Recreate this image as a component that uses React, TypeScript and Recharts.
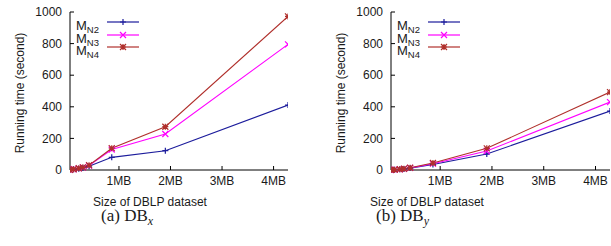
import { Line, LineChart, XAxis, YAxis } from 'recharts';

// dataset size (MB) on the x axis, running time (s) per method
const sizesMB = [0.05, 0.12, 0.22, 0.3, 0.42, 0.86, 1.9, 4.28];
const dbxN2 = [1, 4, 8, 13, 24, 80, 122, 411];
const dbxN3 = [1, 5, 10, 16, 28, 130, 228, 795];
const dbxN4 = [1, 5, 11, 17, 30, 138, 274, 972];
const dbyN2 = [0, 2, 4, 7, 12, 35, 101, 373];
const dbyN3 = [0, 2, 4, 7, 13, 40, 120, 430];
const dbyN4 = [1, 2, 5, 8, 14, 44, 137, 493];

const xTicks = [1, 2, 3, 4];
const yTicks = [0, 200, 400, 600, 800, 1000];
const seriesNames = ['N2', 'N3', 'N4'];

const COLORS: Record<string, string> = { N2: '#1c1c9c', N3: '#ff00ff', N4: '#b0302c' };
const FONT = '"Liberation Sans", Arial, sans-serif';
const SERIF = '"Liberation Serif", "Times New Roman", serif';
const TEXT = '#1a1a1a';

const Marker = ({ cx, cy, kind, color }: { cx: number; cy: number; kind: string; color: string }) => {
  const r = 3;
  const plus = `M${cx - r},${cy}H${cx + r}M${cx},${cy - r}V${cy + r}`;
  const cross = `M${cx - r},${cy - r}L${cx + r},${cy + r}M${cx - r},${cy + r}L${cx + r},${cy - r}`;
  const d = kind === 'N2' ? plus : kind === 'N3' ? cross : plus + cross;
  return <path d={d} stroke={color} strokeWidth={1.2} fill="none" />;
};

// gnuplot-style key in the top-left corner of the plot
const Key = ({ left }: { left: number }) => (
  <div style={{ position: 'absolute', left, top: 16 }}>
    {seriesNames.map((s, i) => (
      <div key={s} style={{ position: 'absolute', top: i * 12.5, left: 0, height: 11, whiteSpace: 'nowrap' }}>
        <span style={{ fontFamily: FONT, fontSize: 13, color: TEXT, lineHeight: '11px', display: 'inline-block' }}>
          M
        </span>
        <span
          style={{
            fontFamily: FONT,
            fontSize: 9.5,
            color: TEXT,
            lineHeight: '9px',
            display: 'inline-block',
            position: 'relative',
            top: 3,
          }}
        >
          {s}
        </span>
        <svg width={34} height={10} style={{ position: 'absolute', left: 30, top: 1 }}>
          <line x1={1} x2={33} y1={5} y2={5} stroke={COLORS[s]} strokeWidth={1.2} />
          <Marker cx={17} cy={5} kind={s} color={COLORS[s]} />
        </svg>
      </div>
    ))}
  </div>
);

interface PanelProps {
  left: number;
  width: number;
  n2: number[];
  n3: number[];
  n4: number[];
}

const Panel = ({ left, width, n2, n3, n4 }: PanelProps) => {
  const data = sizesMB.map((x, i) => ({ x, N2: n2[i], N3: n3[i], N4: n4[i] }));
  const axisTick = { fontSize: 12, fill: TEXT, fontFamily: FONT };
  return (
    <div style={{ position: 'absolute', left, top: 0 }}>
      <LineChart width={width} height={192} data={data} margin={{ top: 12, right: 1, bottom: 0, left: 0 }}>
        <XAxis
          dataKey="x"
          type="number"
          domain={['dataMin', 'dataMax']}
          ticks={xTicks}
          tickFormatter={(v: number) => `${v}MB`}
          tick={axisTick}
          tickSize={-4}
          tickMargin={10}
          height={22}
          stroke="#000"
          allowDataOverflow
        />
        <XAxis
          xAxisId="top"
          orientation="top"
          dataKey="x"
          type="number"
          domain={['dataMin', 'dataMax']}
          ticks={xTicks}
          tick={false}
          tickSize={-4}
          height={0}
          stroke="#000"
          allowDataOverflow
        />
        <YAxis
          domain={[0, 1000]}
          ticks={yTicks}
          tick={axisTick}
          tickSize={-4}
          tickMargin={12}
          width={70}
          stroke="#000"
        />
        <YAxis
          yAxisId="right"
          orientation="right"
          domain={[0, 1000]}
          ticks={yTicks}
          tick={false}
          tickSize={-4}
          width={0}
          stroke="#000"
        />
        {seriesNames.map((s) => (
          <Line
            key={s}
            dataKey={s}
            stroke={COLORS[s]}
            strokeWidth={1.1}
            dot={(p: { cx?: number; cy?: number; index?: number }) => (
              <Marker key={p.index} cx={p.cx ?? 0} cy={p.cy ?? 0} kind={s} color={COLORS[s]} />
            )}
            isAnimationActive={false}
          />
        ))}
      </LineChart>
    </div>
  );
};

const Caption = ({ left, tag, sub }: { left: number; tag: string; sub: string }) => (
  <div
    style={{
      position: 'absolute',
      left,
      top: 206,
      fontFamily: SERIF,
      fontSize: 17,
      color: TEXT,
      whiteSpace: 'nowrap',
    }}
  >
    ({tag}) DB<sub style={{ fontStyle: 'italic', fontSize: 12 }}>{sub}</sub>
  </div>
);

const App = () => {
  const label = {
    position: 'absolute' as const,
    fontFamily: FONT,
    fontSize: 12,
    color: TEXT,
    whiteSpace: 'nowrap' as const,
  };
  return (
    <div style={{ position: 'absolute', left: 0, top: 0, width: 611, height: 246, background: '#fff' }}>
      <Panel left={0} width={289} n2={dbxN2} n3={dbxN3} n4={dbxN4} />
      <Panel left={321} width={290} n2={dbyN2} n3={dbyN3} n4={dbyN4} />
      <Key left={76} />
      <Key left={397} />
      {[20, 341].map((cx) => (
        <div
          key={cx}
          style={{ ...label, left: cx, top: 93, transform: 'translate(-50%, -50%) rotate(-90deg)' }}
        >
          Running time (second)
        </div>
      ))}
      {[150, 427].map((cx) => (
        <div key={cx} style={{ ...label, left: cx, top: 202, transform: 'translate(-50%, -50%)' }}>
          Size of DBLP dataset
        </div>
      ))}
      <Caption left={101} tag="a" sub="x" />
      <Caption left={376} tag="b" sub="y" />
    </div>
  );
};

export default App;
